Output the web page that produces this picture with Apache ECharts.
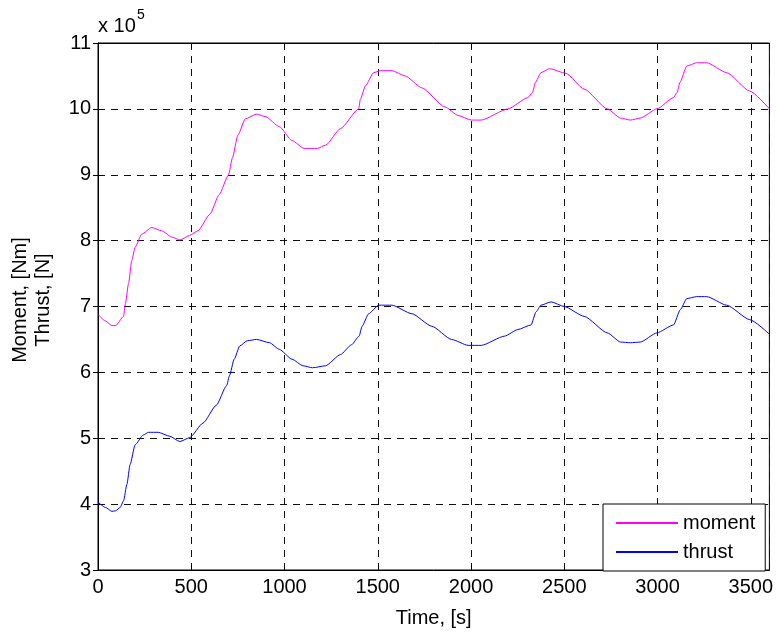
<!DOCTYPE html>
<html>
<head>
<meta charset="utf-8">
<script src="https://cdn.jsdelivr.net/npm/echarts@6/dist/echarts.min.js"></script>
<style>
  html, body { margin: 0; padding: 0; background: #fff; }
  #chart { width: 776px; height: 633px; }
</style>
</head>
<body>
<div id="chart"></div>
<script>
// values in units of 1e5 (axis shows "x 10^5")
let momentT = [0, 40, 75, 95, 137, 146, 164, 181, 199, 235, 288, 340, 400, 439, 492, 536, 600, 650, 700, 720, 750, 790, 850, 900, 972, 1040, 1105, 1176, 1221, 1300, 1398, 1407, 1434, 1478, 1514, 1576, 1647, 1736, 1860, 1931, 2002, 2055, 2198, 2305, 2330, 2345, 2375, 2420, 2509, 2607, 2731, 2802, 2855, 2908, 2997, 3086, 3105, 3120, 3157, 3210, 3264, 3371, 3495, 3600];
let momentV = [6.88, 6.78, 6.71, 6.71, 6.85, 7.03, 7.35, 7.7, 7.9, 8.1, 8.2, 8.15, 8.05, 8.01, 8.08, 8.15, 8.4, 8.7, 9.0, 9.25, 9.6, 9.85, 9.92, 9.88, 9.73, 9.52, 9.40, 9.40, 9.45, 9.7, 10.0, 10.15, 10.35, 10.55, 10.58, 10.58, 10.5, 10.32, 10.03, 9.9, 9.83, 9.83, 10.0, 10.17, 10.25, 10.4, 10.55, 10.61, 10.54, 10.3, 10.0, 9.86, 9.83, 9.86, 10.0, 10.17, 10.25, 10.4, 10.65, 10.7, 10.7, 10.55, 10.27, 10.0];
let thrustT = [0, 40, 75, 95, 119, 137, 155, 172, 199, 243, 270, 323, 385, 439, 492, 563, 634, 690, 705, 730, 760, 800, 850, 920, 972, 1040, 1100, 1150, 1220, 1300, 1360, 1400, 1416, 1451, 1505, 1576, 1683, 1790, 1896, 1985, 2055, 2180, 2251, 2322, 2349, 2375, 2429, 2500, 2607, 2731, 2802, 2855, 2908, 2997, 3086, 3122, 3157, 3210, 3264, 3371, 3495, 3600];
let thrustV = [4.03, 3.95, 3.89, 3.9, 3.95, 4.05, 4.3, 4.6, 4.9, 5.05, 5.09, 5.09, 5.03, 4.95, 5.01, 5.23, 5.5, 5.8, 5.95, 6.2, 6.4, 6.48, 6.5, 6.45, 6.35, 6.2, 6.1, 6.07, 6.1, 6.27, 6.42, 6.55, 6.7, 6.89, 7.02, 7.02, 6.89, 6.7, 6.5, 6.41, 6.41, 6.55, 6.65, 6.72, 6.92, 7.02, 7.07, 7.0, 6.85, 6.6, 6.46, 6.45, 6.46, 6.6, 6.72, 6.95, 7.12, 7.15, 7.15, 7.02, 6.8, 6.58];

let xMin = 0, xMax = 3600, xStep = 500;
let yMin = 3, yMax = 11, yStep = 1;

let font = "'Liberation Sans', Arial, sans-serif";
let fs = 20;

function pairs(t, v) {
    let out = [];
    for (let i = 0; i < t.length; i++) out.push([t[i], v[i]]);
    return out;
}

let gridLine = { show: true, lineStyle: { color: '#111', type: [7, 6], width: 1 } };

let myChart = echarts.init(document.getElementById('chart'), null, { renderer: 'canvas' });
let option = {
    animation: false,
    backgroundColor: '#fff',
    grid: { left: 98, right: 1, top: 43, bottom: 56, show: true, borderColor: '#000', borderWidth: 1 },
    xAxis: [{
        type: 'value', min: xMin, max: xMax, interval: xStep,
        name: 'Time, [s]', nameLocation: 'middle', nameGap: 38,
        nameTextStyle: { color: '#000', fontSize: fs, fontFamily: font },
        axisLine: { show: true, onZero: false, lineStyle: { color: '#000' } },
        axisTick: { show: true, inside: true, length: 5, lineStyle: { color: '#000' } },
        axisLabel: { color: '#000', fontSize: fs, fontFamily: font, margin: 7, showMaxLabel: false,
                     formatter: function (v) { return String(v); } },
        splitLine: gridLine
    }, {
        type: 'value', min: xMin, max: xMax, interval: xStep, position: 'top',
        axisLine: { show: true, lineStyle: { color: '#000' } },
        axisTick: { show: true, inside: true, length: 5, lineStyle: { color: '#000' } },
        axisLabel: { show: false }, splitLine: { show: false }
    }],
    yAxis: [{
        type: 'value', min: yMin, max: yMax, interval: yStep,
        axisLine: { show: true, onZero: false, lineStyle: { color: '#000' } },
        axisTick: { show: true, inside: true, length: 5, lineStyle: { color: '#000' } },
        axisLabel: { color: '#000', fontSize: fs, fontFamily: font, margin: 7 },
        splitLine: gridLine
    }, {
        type: 'value', min: yMin, max: yMax, interval: yStep, position: 'right',
        axisLine: { show: true, lineStyle: { color: '#000' } },
        axisTick: { show: true, inside: true, length: 5, lineStyle: { color: '#000' } },
        axisLabel: { show: false }, splitLine: { show: false }
    }],
    legend: {
        orient: 'vertical', left: 603, top: 504,
        data: ['moment', 'thrust'],
        itemWidth: 62, itemHeight: 14, itemGap: 7,
        padding: [8, 10, 8, 12],
        itemStyle: { opacity: 0 },
        borderColor: '#000', borderWidth: 1, backgroundColor: '#fff',
        textStyle: { color: '#000', fontSize: fs, fontFamily: font, lineHeight: 22 }
    },
    graphic: [
        { type: 'text', x: 32, y: 300, rotation: Math.PI / 2,
          style: { text: 'Moment, [Nm]\nThrust, [N]', align: 'center', verticalAlign: 'middle',
                   fontSize: fs, fontFamily: font, fill: '#000', lineHeight: 23 } },
        { type: 'text', x: 98, y: 36,
          style: { text: 'x 10', align: 'left', verticalAlign: 'bottom', fontSize: fs, fontFamily: font, fill: '#000' } },
        { type: 'text', x: 137, y: 22,
          style: { text: '5', align: 'left', verticalAlign: 'bottom', fontSize: 14, fontFamily: font, fill: '#000' } }
    ],
    series: [{
        name: 'moment', type: 'line', data: pairs(momentT, momentV),
        symbol: 'none', smooth: 0.2, smoothMonotone: 'x',
        lineStyle: { color: '#ff00ff', width: 1 }, itemStyle: { color: '#ff00ff' }
    }, {
        name: 'thrust', type: 'line', data: pairs(thrustT, thrustV),
        symbol: 'none', smooth: 0.2, smoothMonotone: 'x',
        lineStyle: { color: '#0000ff', width: 1 }, itemStyle: { color: '#0000ff' }
    }]
};
myChart.setOption(option);
</script>
</body>
</html>
